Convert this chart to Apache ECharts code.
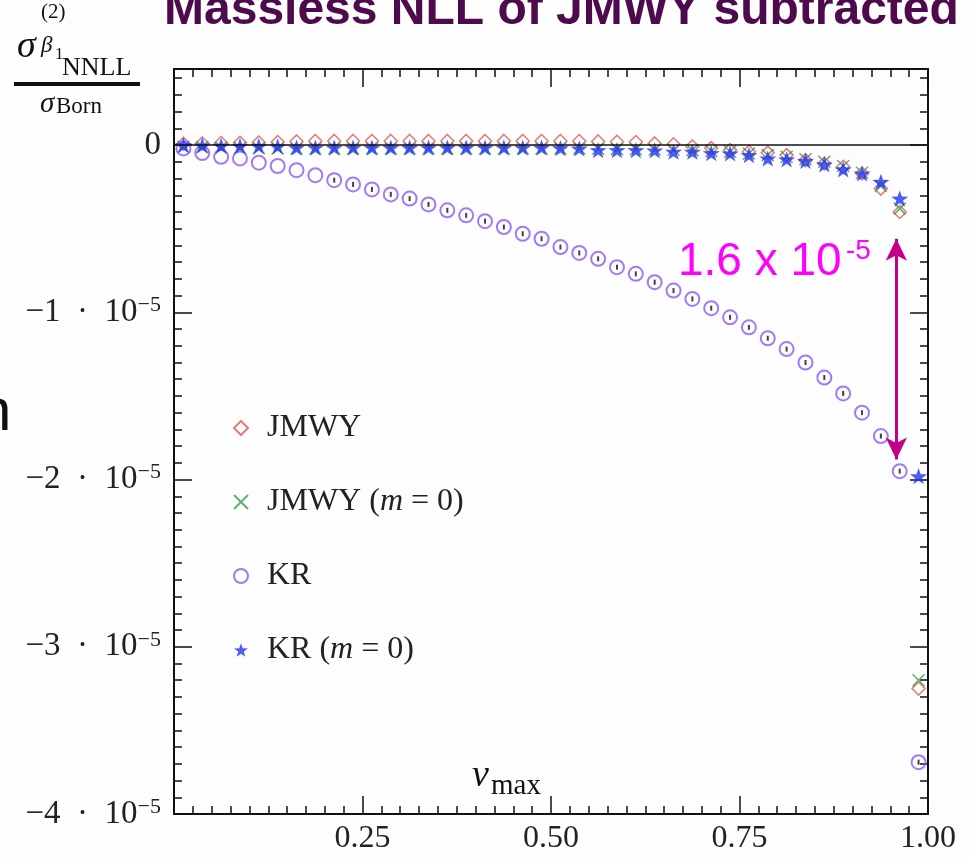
<!DOCTYPE html>
<html>
<head>
<meta charset="utf-8">
<script src="https://cdn.jsdelivr.net/npm/echarts@6/dist/echarts.min.js"></script>
<style>
  html, body { margin: 0; padding: 0; background: #fdfdfd; }
  #chart { width: 969px; height: 859px; }
</style>
</head>
<body>
<div id="chart"></div>
<script>
// v_max grid points
var vmax = [0.0125, 0.0375, 0.0625, 0.0875, 0.1125, 0.1375, 0.1625, 0.1875, 0.2125, 0.2375,
            0.2625, 0.2875, 0.3125, 0.3375, 0.3625, 0.3875, 0.4125, 0.4375, 0.4625, 0.4875,
            0.5125, 0.5375, 0.5625, 0.5875, 0.6125, 0.6375, 0.6625, 0.6875, 0.7125, 0.7375,
            0.7625, 0.7875, 0.8125, 0.8375, 0.8625, 0.8875, 0.9125, 0.9375, 0.9625, 0.9875];

// values in units of 1e-5
var jmwy = [0.008, 0.01, 0.012, 0.014, 0.016, 0.018, 0.022, 0.025, 0.025, 0.025,
            0.025, 0.025, 0.025, 0.025, 0.025, 0.025, 0.025, 0.025, 0.025, 0.025,
            0.025, 0.024, 0.022, 0.02, 0.018, 0.01, 0.005, -0.008, -0.018, -0.03,
            -0.04, -0.045, -0.06, -0.09, -0.11, -0.13, -0.17, -0.26, -0.40, -3.25];

var jmwyM0 = [-0.01, -0.012, -0.014, -0.016, -0.018, -0.02, -0.02, -0.02, -0.02, -0.02,
              -0.02, -0.02, -0.02, -0.02, -0.02, -0.02, -0.02, -0.02, -0.02, -0.02,
              -0.02, -0.02, -0.022, -0.024, -0.025, -0.026, -0.028, -0.03, -0.035, -0.04,
              -0.05, -0.06, -0.07, -0.085, -0.10, -0.125, -0.165, -0.245, -0.38, -3.20];

var kr = [-0.02, -0.048, -0.07, -0.08, -0.105, -0.125, -0.15, -0.18, -0.21, -0.235,
          -0.265, -0.295, -0.32, -0.355, -0.39, -0.42, -0.455, -0.49, -0.53, -0.56,
          -0.61, -0.645, -0.68, -0.73, -0.77, -0.82, -0.87, -0.92, -0.975, -1.03,
          -1.09, -1.155, -1.22, -1.30, -1.39, -1.485, -1.60, -1.74, -1.95, -3.69];

var krM0 = [0.0, -0.002, -0.004, -0.005, -0.006, -0.008, -0.015, -0.015, -0.015, -0.015,
            -0.015, -0.015, -0.015, -0.015, -0.015, -0.015, -0.015, -0.015, -0.015, -0.015,
            -0.018, -0.02, -0.03, -0.03, -0.03, -0.032, -0.04, -0.04, -0.048, -0.05,
            -0.06, -0.08, -0.085, -0.094, -0.115, -0.145, -0.17, -0.22, -0.32, -1.98];

var seriesNames = ['JMWY', 'JMWY (m = 0)', 'KR', 'KR (m = 0)'];
var xTicks = [0.25, 0.50, 0.75, 1.00];
var yTicks = [-4, -3, -2, -1, 0];

var serif = '"Liberation Serif", "DejaVu Serif", serif';
var sans = '"Liberation Sans", Arial, sans-serif';

function pairs(ys) {
    return vmax.map(function (x, i) { return [x, ys[i]]; });
}

var starPath = 'path://M50,0L61.8,33.8L97.6,34.5L69,56.2L79.4,90.5L50,70L20.6,90.5L31,56.2L2.4,34.5L38.2,33.8Z';
var crossPath = 'path://M0,0L10,10M10,0L0,10';

var chart = echarts.init(document.getElementById('chart'));

var tickStyle = { color: '#111', width: 1.5 };

function yAxisBase(pos, interval, len, showLine, showLabel) {
    return {
        type: 'value', position: pos, min: -4, max: 0.455, interval: interval,
        axisLine: { show: showLine, onZero: false, lineStyle: { color: '#111', width: 2 } },
        axisTick: { show: true, inside: true, length: len, lineStyle: tickStyle },
        splitLine: { show: false },
        axisLabel: showLabel ? {
            margin: 13,
            formatter: function (v) {
                if (Math.abs(v - Math.round(v)) > 1e-9) return '';
                if (yTicks.indexOf(Math.round(v)) < 0) return '';
                if (Math.round(v) === 0) return '{a|0}';
                return '{a|\u2212' + Math.abs(Math.round(v)) + '\u2002\u00b7\u200210}{s|\u22125}';
            },
            rich: {
                a: { fontFamily: serif, fontSize: 33, color: '#222', lineHeight: 36 },
                s: { fontFamily: serif, fontSize: 22, color: '#222', verticalAlign: 'top', lineHeight: 36 }
            }
        } : { show: false }
    };
}

function xAxisBase(pos, showLabel) {
    return {
        type: 'value', position: pos, min: 0, max: 1, interval: 0.25,
        axisLine: { show: true, onZero: false, lineStyle: { color: '#111', width: 2 } },
        axisTick: { show: true, inside: true, length: 18, lineStyle: tickStyle },
        minorTick: { show: true, splitNumber: 10, length: 8, lineStyle: tickStyle },
        splitLine: { show: false },
        axisLabel: showLabel ? {
            margin: 9,
            showMinLabel: false,
            fontFamily: serif, fontSize: 32, color: '#222',
            formatter: function (v) { return xTicks.indexOf(v) >= 0 ? v.toFixed(2) : ''; }
        } : { show: false }
    };
}

var legendRich = {
    n: { fontFamily: serif, fontSize: 32, color: '#222' },
    i: { fontFamily: serif, fontSize: 32, color: '#222', fontStyle: 'italic' }
};

var option = {
    backgroundColor: '#fdfdfd',
    animation: false,
    grid: { left: 174, right: 41, top: 69, bottom: 45 },
    xAxis: [xAxisBase('bottom', true), xAxisBase('top', false)],
    yAxis: [
        yAxisBase('left', 1, 18, true, true),
        yAxisBase('left', 0.1, 8, false, false),
        yAxisBase('right', 1, 18, true, false),
        yAxisBase('right', 0.1, 8, false, false)
    ],
    legend: {
        data: seriesNames,
        orient: 'vertical',
        left: 228,
        top: 407,
        itemGap: 42,
        itemWidth: 14,
        itemHeight: 14,
        textStyle: { fontFamily: serif, fontSize: 32, color: '#222', padding: [0, 0, 0, 14], rich: legendRich },
        formatter: function (name) {
            if (name.indexOf('(m = 0)') > 0) {
                return '{n|' + name.replace(' (m = 0)', '') + ' (}{i|m}{n| = 0)}';
            }
            return '{n|' + name + '}';
        }
    },
    series: [
        {
            name: 'JMWY', type: 'scatter', data: pairs(jmwy),
            symbol: 'diamond', symbolSize: 13,
            itemStyle: { color: 'rgba(0,0,0,0)', borderColor: '#dc5a55', borderWidth: 1.5 }
        },
        {
            name: 'JMWY (m = 0)', type: 'scatter', data: pairs(jmwyM0),
            symbol: crossPath, symbolSize: 12,
            itemStyle: { color: 'rgba(0,0,0,0)', borderColor: '#3f9a45', borderWidth: 1.5 }
        },
        {
            name: 'KR', type: 'scatter', data: pairs(kr),
            symbol: 'circle', symbolSize: 14,
            itemStyle: { color: 'rgba(0,0,0,0)', borderColor: '#8a5af5', borderWidth: 2 },
            markLine: {
                silent: true, symbol: 'none', label: { show: false },
                lineStyle: { color: '#111', width: 1.5, type: 'solid' },
                data: [{ yAxis: 0 }]
            }
        },
        {
            name: 'KR (m = 0)', type: 'scatter', data: pairs(krM0),
            symbol: starPath, symbolSize: 17, symbolKeepAspect: true,
            itemStyle: { color: '#1f33f2' },
            markLine: {
                silent: true, symbol: ['arrow', 'arrow'], symbolSize: [16, 22],
                label: { show: false },
                lineStyle: { color: '#c4008a', width: 3, type: 'solid' },
                data: [[{ coord: [0.958, -0.56] }, { coord: [0.958, -1.88] }]]
            }
        },
        {
            // small error marks drawn inside the KR circles
            name: 'KR err', type: 'scatter', data: pairs(kr).slice(8),
            symbol: 'rect', symbolSize: [2, 5], silent: true,
            itemStyle: { color: '#111' }
        }
    ],
    graphic: [
        // cut-off slide title
        { type: 'text', left: 164, top: -13,
          style: { text: 'Massless NLL of JMWY subtracted', font: 'bold 48px ' + sans, fill: '#4d0a4d' } },
        // cut-off letter at left edge
        { type: 'text', left: -22, top: 383,
          style: { text: 'n', font: '60px ' + sans, fill: '#111' } },
        // y axis title: sigma^(2)_{beta1 NNLL} / sigma_Born
        { type: 'text', left: 17, top: 28, style: { text: '\u03c3', font: 'italic 38px ' + serif, fill: '#111' } },
        { type: 'text', left: 41, top: 2, style: { text: '(2)', font: '21px ' + serif, fill: '#111' } },
        { type: 'text', left: 41, top: 34, style: { text: '\u03b2', font: 'italic 23px ' + serif, fill: '#111' } },
        { type: 'text', left: 55, top: 46, style: { text: '1', font: '17px ' + serif, fill: '#111' } },
        { type: 'text', left: 62, top: 55, style: { text: 'NNLL', font: '26px ' + serif, fill: '#111' } },
        { type: 'rect', left: 14, top: 82, shape: { width: 126, height: 4 }, style: { fill: '#111' } },
        { type: 'text', left: 40, top: 90, style: { text: '\u03c3', font: 'italic 29px ' + serif, fill: '#111' } },
        { type: 'text', left: 56, top: 95, style: { text: 'Born', font: '23px ' + serif, fill: '#111' } },
        // x axis title v_max
        { type: 'text', left: 472, top: 757, style: { text: 'v', font: 'italic 38px ' + serif, fill: '#111' } },
        { type: 'text', left: 491, top: 772, style: { text: 'max', font: '29px ' + serif, fill: '#111' } },
        // annotation
        { type: 'text', left: 678, top: 239, style: { text: '1.6 x 10', font: '46px ' + sans, fill: '#ff00ff' } },
        { type: 'text', left: 846, top: 237, style: { text: '-5', font: '28px ' + sans, fill: '#ff00ff' } }
    ]
};

chart.setOption(option);
</script>
</body>
</html>
